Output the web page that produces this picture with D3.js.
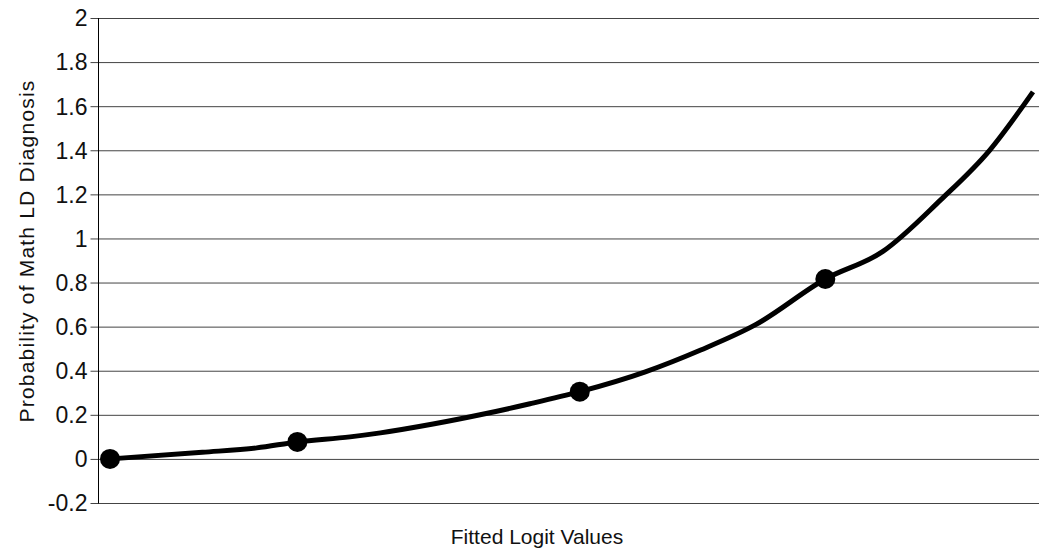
<!DOCTYPE html>
<html>
<head>
<meta charset="utf-8">
<script src="https://cdn.jsdelivr.net/npm/d3@7"></script>
<style>
  body { margin: 0; background: #fff; }
  svg { display: block; font-family: "Liberation Sans", Arial, Helvetica, sans-serif; }
</style>
</head>
<body>
<div id="chart"></div>
<script>
// curve samples
var logit = [0, 10, 15.9, 20.3, 26, 29.3, 35, 40.1, 45.5, 50.9, 58, 64, 70, 77.5, 83.7, 90, 95.3, 100];
var prob  = [0, 0.03, 0.05, 0.077, 0.10, 0.118, 0.158, 0.20, 0.25, 0.305, 0.395, 0.494, 0.61, 0.816, 0.94, 1.175, 1.40, 1.665];
// points that carry a marker
var markerLogit = [0, 20.3, 50.9, 77.5];
var markerProb  = [0, 0.077, 0.305, 0.816];
var yTicks = [-0.2, 0, 0.2, 0.4, 0.6, 0.8, 1, 1.2, 1.4, 1.6, 1.8, 2];

var width = 1039, height = 550;
var plotLeft = 98.5, plotRight = 1039, plotTop = 18, plotBottom = 503;

var svg = d3.select("#chart").append("svg")
    .attr("width", width)
    .attr("height", height);

var x = d3.scaleLinear().domain([0, 100]).range([110, 1033]);
var y = d3.scaleLinear().domain([-0.2, 2]).range([plotBottom, plotTop]);

// gridlines + ticks
svg.append("g")
    .attr("transform", "translate(" + plotLeft + ",0)")
    .call(d3.axisLeft(y).tickValues(yTicks).tickSize(-(plotRight - plotLeft)).tickPadding(0)
        .tickFormat(d => String(+d.toFixed(1))))
    .call(g => g.select(".domain").remove())
    .call(g => g.selectAll(".tick line").attr("stroke", "#444").attr("stroke-width", 1).attr("x1", -8))
    .call(g => g.selectAll(".tick text")
        .attr("x", -11)
        .attr("dy", "0.34em")
        .attr("fill", "#111")
        .attr("font-size", 23));

// y axis line
svg.append("line")
    .attr("x1", plotLeft).attr("x2", plotLeft)
    .attr("y1", plotTop).attr("y2", plotBottom + 0.5)
    .attr("stroke", "#000").attr("stroke-width", 1);

var line = d3.line()
    .x((d, i) => x(logit[i]))
    .y((d, i) => y(prob[i]))
    .curve(d3.curveMonotoneX);

svg.append("path")
    .datum(prob)
    .attr("d", line)
    .attr("fill", "none")
    .attr("stroke", "#000")
    .attr("stroke-width", 5)
    .attr("stroke-linecap", "butt");

svg.selectAll("circle.pt")
    .data(markerLogit)
    .enter().append("circle")
    .attr("class", "pt")
    .attr("cx", d => x(d))
    .attr("cy", (d, i) => y(markerProb[i]))
    .attr("r", 10)
    .attr("fill", "#000");

svg.append("text")
    .attr("x", 537).attr("y", 544)
    .attr("text-anchor", "middle")
    .attr("font-size", 21)
    .attr("fill", "#111")
    .text("Fitted Logit Values");

svg.append("text")
    .attr("transform", "translate(34,251) rotate(-90)")
    .attr("text-anchor", "middle")
    .attr("font-size", 21)
    .attr("letter-spacing", 1.2)
    .attr("fill", "#111")
    .text("Probability of Math LD Diagnosis");
</script>
</body>
</html>
